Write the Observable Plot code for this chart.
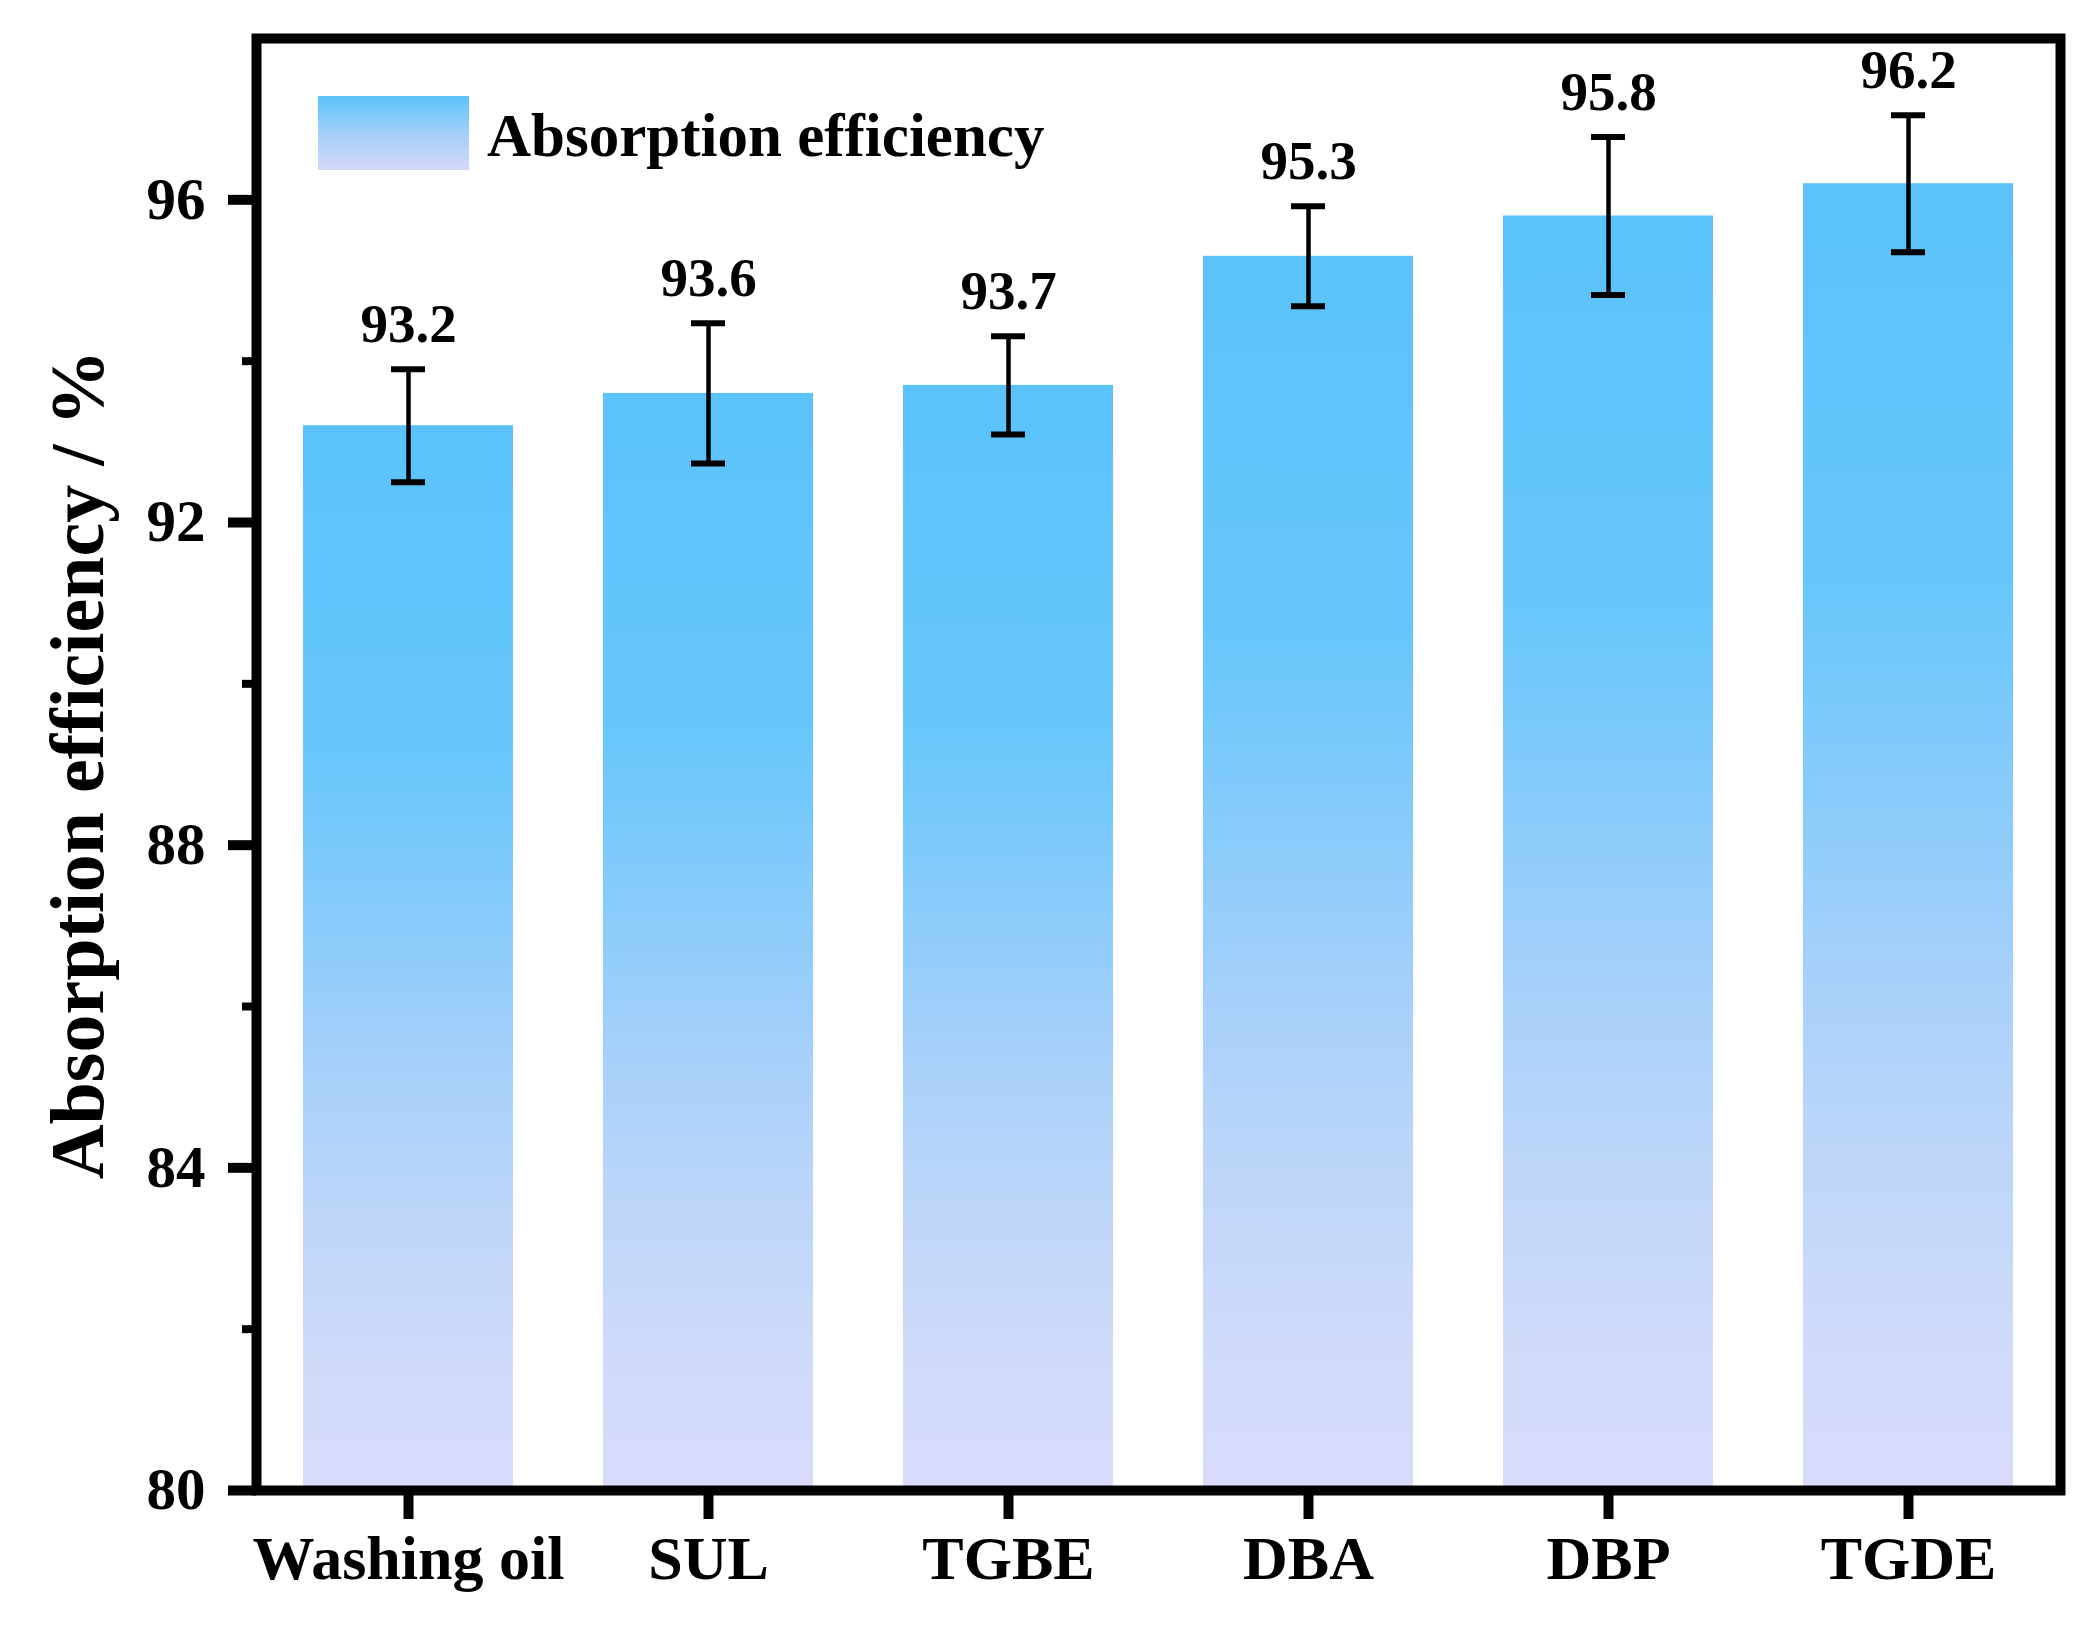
<!DOCTYPE html>
<html>
<head>
<meta charset="utf-8">
<script src="https://cdn.jsdelivr.net/npm/d3@7"></script>
<script src="https://cdn.jsdelivr.net/npm/@observablehq/plot@0.6"></script>
<style>
  body { margin: 0; background: #fff; }
  #wrap { position: relative; width: 2096px; height: 1630px; }
  #legend { position: absolute; left: 0; top: 0; pointer-events: none; }
</style>
</head>
<body>
<div id="wrap"></div>
<script>
// ---- data ----
const categories = ["Washing oil", "SUL", "TGBE", "DBA", "DBP", "TGDE"];
const values = [93.2, 93.6, 93.7, 95.3, 95.8, 96.2];
const errors = [0.70, 0.87, 0.61, 0.62, 0.98, 0.85];
const yDomain = [80, 98];
const majorTicks = [80, 84, 88, 92, 96];
const minorTicks = [82, 86, 90, 94];
const yTitle = "Absorption efficiency / %";
const legendLabel = "Absorption efficiency";

const data = categories.map((c, i) => ({
  cat: c, value: values[i], base: yDomain[0],
  lo: values[i] - errors[i], hi: values[i] + errors[i]
}));

const font = '"Liberation Serif", "Times New Roman", serif';

const gradStops = [
  [0, "#5bc3fa"], [0.3, "#66c6fb"], [0.45, "#84cbfb"], [0.6, "#a6d0fa"],
  [0.75, "#bed6f9"], [0.88, "#cfdaf9"], [1, "#d9dcfa"]
];

function defs() {
  const d = d3.create("svg:defs");
  const g = d.append("linearGradient").attr("id", "barGrad")
    .attr("x1", 0).attr("y1", 0).attr("x2", 0).attr("y2", 1);
  gradStops.forEach(([o, c]) => g.append("stop").attr("offset", o).attr("stop-color", c));
  return d.node();
}

const plot = Plot.plot({
  width: 2096,
  height: 1630,
  marginLeft: 256,
  marginRight: 36,
  marginTop: 38,
  marginBottom: 140,
  style: { fontFamily: font, fontWeight: "bold", background: "#fff", color: "#000" },
  x: { domain: categories, paddingInner: 0.3, paddingOuter: 0.15, label: null },
  y: { domain: yDomain, label: null },
  marks: [
    defs,
    Plot.barY(data, { x: "cat", y1: "base", y2: "value", fill: "url(#barGrad)" }),
    Plot.ruleX(data, { x: "cat", y1: "lo", y2: "hi", stroke: "#000", strokeWidth: 4.5 }),
    Plot.tickY(data, { x: "cat", y: "hi", stroke: "#000", strokeWidth: 6, insetLeft: 88, insetRight: 88 }),
    Plot.tickY(data, { x: "cat", y: "lo", stroke: "#000", strokeWidth: 6, insetLeft: 88, insetRight: 88 }),
    Plot.text(data, { x: "cat", y: "hi", text: d => d.value.toFixed(1), dy: -27, lineAnchor: "bottom", fontSize: 55, fill: "#000" }),
    Plot.axisY(majorTicks, { tickSize: 28, tickPadding: 23, strokeWidth: 10, fontSize: 59, tickFormat: d => d, label: null }),
    Plot.axisY(minorTicks, { tickSize: 14, strokeWidth: 8, tickFormat: () => "", label: null }),
    Plot.axisX({ tickSize: 29, tickPadding: 15, strokeWidth: 10, fontSize: 62, label: null }),
    Plot.text([yTitle], { frameAnchor: "left", dx: -154, rotate: -90, lineAnchor: "bottom", textAnchor: "middle", fontSize: 76, fill: "#000" }),
    Plot.frame({ stroke: "#000", strokeWidth: 10 })
  ]
});

const wrap = document.getElementById("wrap");
wrap.appendChild(plot);

// legend overlay (inside plot frame, top-left)
const leg = d3.create("svg").attr("id", "legend").attr("width", 2096).attr("height", 300);
const lg = leg.append("defs").append("linearGradient").attr("id", "legGrad")
  .attr("x1", 0).attr("y1", 0).attr("x2", 0).attr("y2", 1);
[[0, "#5cc4fa"], [0.5, "#a2cffa"], [1, "#d4d8fa"]].forEach(([o, c]) => lg.append("stop").attr("offset", o).attr("stop-color", c));
leg.append("rect").attr("x", 318).attr("y", 96).attr("width", 151).attr("height", 74).attr("fill", "url(#legGrad)");
leg.append("text").attr("x", 487).attr("y", 156)
  .attr("font-family", font).attr("font-weight", "bold").attr("font-size", 61).attr("fill", "#000")
  .text(legendLabel);
wrap.appendChild(leg.node());
</script>
</body>
</html>
